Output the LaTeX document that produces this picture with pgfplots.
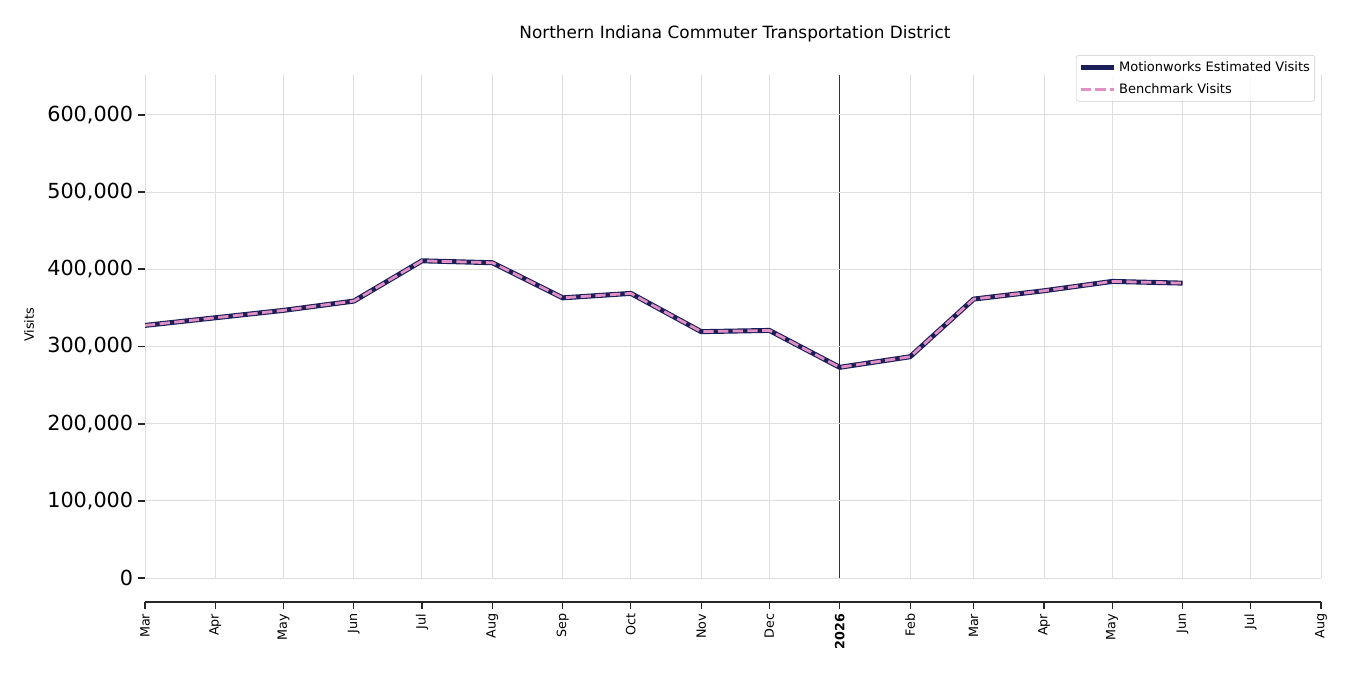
\documentclass[border=0pt]{standalone}
\usepackage{fontspec}
\setmainfont{DejaVu Sans}
\usepackage{pgfplots}
\pgfplotsset{compat=1.18}
\definecolor{navy}{RGB}{28,30,88}
\definecolor{pinkb}{RGB}{224,144,196}
\definecolor{gridc}{RGB}{222,222,222}
\begin{document}
\begin{tikzpicture}[x=1bp,y=1bp]
\path[use as bounding box] (0,0) rectangle (972,486);
% vertical grid lines (from 0 upward)
\begin{axis}[at={(104.4bp,69.84bp)}, anchor=south west, scale only axis,
  width=846.72bp, height=362.16bp,
  xmin=0, xmax=518, ymin=0, ymax=651800,
  scaled x ticks=false, scaled y ticks=false,
  axis line style={draw=none}, tick style={draw=none},
  xtick={0,31,61,92,122,153,184,214,245,275,337,365,396,426,457,487,518},
  xticklabels={}, ytick=\empty,
  xmajorgrids, grid style={gridc, line width=0.7bp}]
\addplot[black!80, line width=0.8bp] coordinates {(306,0) (306,651800)};
\end{axis}
\begin{axis}[at={(104.4bp,52.56bp)}, anchor=south west, scale only axis,
  width=846.72bp, height=379.44bp,
  xmin=0, xmax=518, ymin=-31100, ymax=651800,
  scaled x ticks=false, scaled y ticks=false,
  axis x line*=bottom, axis y line*=left,
  y axis line style={draw=none},
  x axis line style={line width=1.4bp, black!85, -},
  tick align=outside, major tick length=5bp,
  ytick={0,100000,200000,300000,400000,500000,600000},
  yticklabels={0,{100,000},{200,000},{300,000},{400,000},{500,000},{600,000}},
  yticklabel style={font=\fontsize{15}{17}\selectfont},
  y tick style={line width=1.4bp, black!85},
  x tick style={line width=0.8bp, black!85},
  xtick={0,31,61,92,122,153,184,214,245,275,337,365,396,426,457,487,518},
  xticklabels={Mar,Apr,May,Jun,Jul,Aug,Sep,Oct,Nov,Dec,Feb,Mar,Apr,May,Jun,Jul,Aug},
  extra x ticks={306}, extra x tick labels={\textbf{2026}},
  extra x tick style={tick style={line width=1.6bp, black!85}},
  xticklabel style={rotate=90, anchor=east, font=\fontsize{9.2}{11}\selectfont},
  ymajorgrids, grid style={gridc, line width=0.7bp},
  ylabel={Visits},
  ylabel style={at={(axis description cs:-0.0986,0.526)}, rotate=0, anchor=center, font=\fontsize{9.3}{11}\selectfont},
  title={Northern Indiana Commuter Transportation District},
  title style={at={(axis description cs:0.5017,1.0531)}, anchor=base, font=\fontsize{12.2}{14}\selectfont},
  legend style={at={(axis description cs:0.9949,1.038)}, anchor=north east,
    font=\fontsize{9.4}{11}\selectfont, draw=black!20, rounded corners=2bp,
    fill=white, fill opacity=0.8, text opacity=1, draw opacity=1,
    inner xsep=1.5bp, inner ysep=2.5bp, row sep=3bp},
  legend cell align=left,
  legend image code/.code={\path (0bp,0bp) -- (23.8bp,0bp);\draw[#1] (0bp,0bp) -- (21.6bp,0bp);},
]
\addplot[navy, line width=3.6bp, line join=round] coordinates {
(0,327300) (31,337200) (61,346800) (92,358800) (122,411000) (153,408500)
(184,363000) (214,368800) (245,319200) (275,320800) (306,273000) (337,286700)
(365,361400) (396,372200) (426,384300) (457,382100)};
\addlegendentry{Motionworks Estimated Visits}
\addplot[pinkb, line width=2bp, dash pattern=on 7.4bp off 3.2bp] coordinates {
(0,327300) (31,337200) (61,346800) (92,358800) (122,411000) (153,408500)
(184,363000) (214,368800) (245,319200) (275,320800) (306,273000) (337,286700)
(365,361400) (396,372200) (426,384300) (457,382100)};
\addlegendentry{Benchmark Visits}
\end{axis}
\end{tikzpicture}
\end{document}
